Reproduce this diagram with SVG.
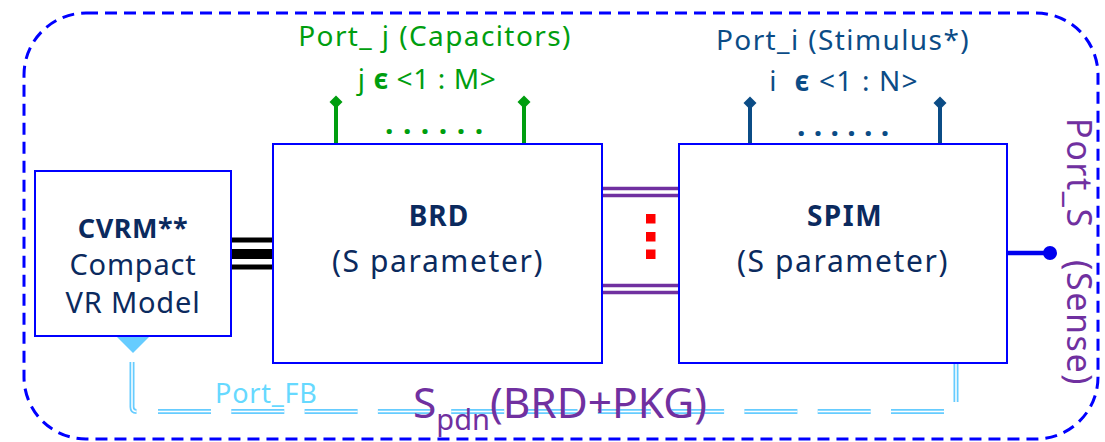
<svg xmlns="http://www.w3.org/2000/svg" width="1105" height="442" viewBox="0 0 1105 442">
<defs>
<style>
.box{fill:#fff;stroke:#0000FF;stroke-width:2}
.t{font-family:"Noto Sans","Open Sans",sans-serif;fill:#0B2A5E}
.g{fill:#009E0F}
.b{fill:#0B4C86}
.p{fill:#7030A0}
.fbo{fill:none;stroke:#66CCFF;stroke-width:5}
.fbi{fill:none;stroke:#fff;stroke-width:1.5}
.pl{stroke:#7030A0;stroke-width:3.5}
</style>
</defs>
<rect x="24" y="13" width="1074" height="426" rx="62" ry="62" fill="none" stroke="#0000FF" stroke-width="3" stroke-dasharray="12 7"/>

<g id="connectors">
<line x1="231" y1="240" x2="273" y2="240" stroke="#000" stroke-width="5"/>
<line x1="231" y1="254" x2="273" y2="254" stroke="#000" stroke-width="10"/>
<line x1="231" y1="267" x2="273" y2="267" stroke="#000" stroke-width="5"/>
<line class="pl" x1="602" y1="188.5" x2="679" y2="188.5"/>
<line class="pl" x1="602" y1="195.5" x2="679" y2="195.5"/>
<line class="pl" x1="602" y1="285.5" x2="679" y2="285.5"/>
<line class="pl" x1="602" y1="292.5" x2="679" y2="292.5"/>
<rect x="646" y="214" width="9.5" height="9.5" fill="#FF0000"/>
<rect x="646" y="232" width="9.5" height="9.5" fill="#FF0000"/>
<rect x="646" y="249.5" width="9.5" height="9.5" fill="#FF0000"/>
<g stroke="#009E0F" stroke-width="4">
<line x1="336" y1="106" x2="336" y2="144"/>
<line x1="524" y1="106" x2="524" y2="144"/>
</g>
<polygon points="336,95.5 342.5,102 336,108.5 329.5,102" fill="#009E0F"/>
<polygon points="524,95.5 530.5,102 524,108.5 517.5,102" fill="#009E0F"/>
<g stroke="#0B4C86" stroke-width="4">
<line x1="750" y1="106" x2="750" y2="144"/>
<line x1="940" y1="106" x2="940" y2="144"/>
</g>
<polygon points="750,96.5 756.5,103 750,109.5 743.5,103" fill="#0B4C86"/>
<polygon points="940,96.5 946.5,103 940,109.5 933.5,103" fill="#0B4C86"/>
<line x1="1007" y1="253" x2="1049" y2="253" stroke="#0000EE" stroke-width="4.5"/>
<circle cx="1050" cy="253" r="7" fill="#0000EE"/>
<g id="feedback">
<path class="fbo" d="M1007,254 H961 Q956,254 956,259 M956,273 V328 M956,348 V402 M132,362 V407 Q132,411.5 136.5,411.5"/>
<path class="fbi" d="M1007,254 H961 Q956,254 956,259 M956,273 V328 M956,348 V402 M132,362 V407 Q132,411.5 136.5,411.5"/>
<path class="fbo" d="M158,411.5 H944" stroke-dasharray="53 20.3"/>
<path class="fbi" d="M158,411.5 H944" stroke-dasharray="53 20.3"/>
</g>
</g>

<g id="cvrm">
<rect class="box" x="35" y="171" width="196" height="165"/>
<polygon points="117,337 149,337 133,353" fill="#66CCFF"/>
<text class="t" x="133" y="238" text-anchor="middle" font-size="27" font-weight="bold" letter-spacing="0.5">CVRM**</text>
<text class="t" x="133" y="275" text-anchor="middle" font-size="29" letter-spacing="0.8">Compact</text>
<text class="t" x="133" y="313" text-anchor="middle" font-size="29" letter-spacing="0.8">VR Model</text>
</g>

<g id="brd">
<rect class="box" x="273" y="144" width="329" height="219"/>
<text class="t" x="439" y="226" text-anchor="middle" font-size="28" font-weight="bold" letter-spacing="1">BRD</text>
<text class="t" x="438" y="272" text-anchor="middle" font-size="30" letter-spacing="1.6">(S parameter)</text>
</g>

<g id="spim">
<rect class="box" x="679" y="144" width="328" height="219"/>
<text class="t" x="845" y="226" text-anchor="middle" font-size="28" font-weight="bold" letter-spacing="1.5">SPIM</text>
<text class="t" x="843" y="272" text-anchor="middle" font-size="30" letter-spacing="1.6">(S parameter)</text>
</g>

<g id="labels">
<text class="t g" x="435" y="46" text-anchor="middle" font-size="28" letter-spacing="1.4">Port_ j (Capacitors)</text>
<text class="t g" x="427" y="89" text-anchor="middle" font-size="28" letter-spacing="0.6">j <tspan font-weight="bold">ϵ</tspan> &lt;1 : M&gt;</text>
<text class="t g" x="385" y="134" font-size="30" font-weight="bold" letter-spacing="9.5">......</text>
<text class="t b" x="843" y="50" text-anchor="middle" font-size="28" letter-spacing="1.4">Port_i (Stimulus*)</text>
<text class="t b" x="844" y="91" text-anchor="middle" font-size="28" letter-spacing="1.2" xml:space="preserve">i  <tspan font-weight="bold">ϵ</tspan> &lt;1 : N&gt;</text>
<text class="t b" x="797" y="136" font-size="30" font-weight="bold" letter-spacing="8.3">......</text>
<text class="t p" transform="translate(1067,252) rotate(90)" text-anchor="middle" font-size="34" letter-spacing="1.6" xml:space="preserve">Port_S   (Sense)</text>
<text class="t" x="215" y="403" font-size="27" letter-spacing="0.8" style="fill:#66D9FF">Port_FB</text>
<text class="t p" x="413" y="418" font-size="42.5">S<tspan font-size="29" dy="12">pdn</tspan><tspan dy="-12">(BRD+PKG)</tspan></text>
</g>
</svg>
